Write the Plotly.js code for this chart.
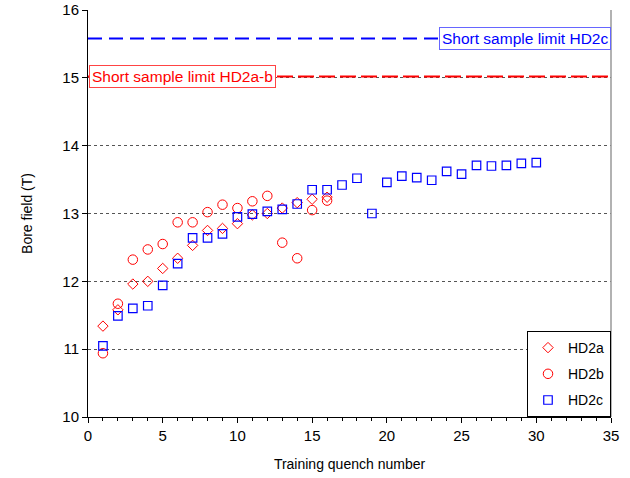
<!DOCTYPE html>
<html>
<head>
<meta charset="utf-8">
<script src="https://cdn.plot.ly/plotly-3.0.1.min.js"></script>
<style>html,body{margin:0;padding:0;background:#fff;}#chart{width:630px;height:478px;}</style>
</head>
<body>
<div id="chart"></div>
<script>
// Data
const quenchA = [1,2,3,4,5,6,7,8,9,10,11,12,13,14,15,16];
const hd2a = [11.34,11.58,11.96,12.0,12.19,12.34,12.53,12.75,12.78,12.85,12.98,13.0,13.08,13.16,13.21,13.24];
const quenchB = [1,2,3,4,5,6,7,8,9,10,11,12,13,14,15,16];
const hd2b = [10.94,11.67,12.32,12.47,12.55,12.87,12.87,13.02,13.13,13.08,13.18,13.26,12.57,12.34,13.05,13.19];
const quenchC = [1,2,3,4,5,6,7,8,9,10,11,12,13,14,15,16,17,18,19,20,21,22,23,24,25,26,27,28,29,30];
const hd2c = [11.05,11.49,11.60,11.64,11.94,12.26,12.64,12.64,12.70,12.95,12.99,13.03,13.06,13.14,13.35,13.35,13.42,13.52,13.0,13.46,13.55,13.53,13.49,13.62,13.58,13.71,13.70,13.71,13.74,13.75];
const limitX = [0,35];
const limitHD2c = [15.58,15.58];
const limitHD2ab = [15.02,15.02];
const limitLabels = ["Short sample limit HD2c","Short sample limit HD2a-b"];

const traces = [
  {x: limitX, y: limitHD2c, mode:'lines', line:{color:'#0000ff', width:2, dash:'14px,7px'}, showlegend:false, hoverinfo:'skip'},
  {x: limitX, y: limitHD2ab, mode:'lines', line:{color:'#ff0000', width:2, dash:'16px,5px'}, showlegend:false, hoverinfo:'skip'},
  {x: quenchA, y: hd2a, name:'HD2a', mode:'markers', legendgroup:'a',
   marker:{symbol:'diamond-open', size:8, color:'#ff0000', line:{width:1}}},
  {x: quenchB, y: hd2b, name:'HD2b', mode:'markers', legendgroup:'b',
   marker:{symbol:'circle-open', size:9.5, color:'#ff0000', line:{width:1}}},
  {x: quenchC, y: hd2c, name:'HD2c', mode:'markers', legendgroup:'c',
   marker:{symbol:'square-open', size:8.5, color:'#0000ff', line:{width:1.2}}}
];

const font = {family:'"Liberation Sans", Arial, sans-serif', color:'#000'};

const layout = {
  width:630, height:478,
  margin:{l:88, r:19, t:10, b:61},
  paper_bgcolor:'#fff', plot_bgcolor:'#fff',
  font: Object.assign({size:15}, font),
  showlegend:true,
  legend:{x:1, xanchor:'right', y:0, yanchor:'bottom', bgcolor:'#fff', bordercolor:'#000', borderwidth:1,
          font:Object.assign({size:14}, font), tracegroupgap:5, itemwidth:30},
  xaxis:{range:[0,35], dtick:5, tick0:0, ticks:'outside', ticklen:5, tickcolor:'#000',
         showline:true, linecolor:'#000', linewidth:1, showgrid:false, zeroline:false,
         minor:{dtick:1, ticks:'outside', ticklen:3, tickcolor:'#000', showgrid:false},
         tickfont:Object.assign({size:15}, font),
         title:{text:'Training quench number', font:Object.assign({size:14}, font), standoff:16}},
  yaxis:{range:[10,16], dtick:1, ticks:'outside', ticklen:5, tickcolor:'#000',
         showline:true, linecolor:'#000', linewidth:1, showgrid:true, gridcolor:'#555', griddash:'dot', gridwidth:1,
         zeroline:false, tickfont:Object.assign({size:15}, font),
         title:{text:'Bore field (T)', font:Object.assign({size:14}, font), standoff:26}},
  shapes:[{type:'line', xref:'paper', yref:'paper', x0:1, x1:1, y0:0, y1:1, line:{color:'#999', width:1.5}}],
  annotations:[
    {x:35, y:limitHD2c[0], xref:'x', yref:'y', xanchor:'right', yanchor:'middle', text:limitLabels[0], showarrow:false,
     font:Object.assign({}, font, {size:15.5, color:'#0000ff'}), bgcolor:'#fff', bordercolor:'#6666ff', borderwidth:1, borderpad:2},
    {x:0.1, y:limitHD2ab[0], xref:'x', yref:'y', xanchor:'left', yanchor:'middle', text:limitLabels[1], showarrow:false,
     font:Object.assign({}, font, {size:15.5, color:'#ff0000'}), bgcolor:'#fff', bordercolor:'#ff4444', borderwidth:1, borderpad:2}
  ]
};

Plotly.newPlot('chart', traces, layout, {staticPlot:true, displayModeBar:false});
</script>
</body>
</html>
